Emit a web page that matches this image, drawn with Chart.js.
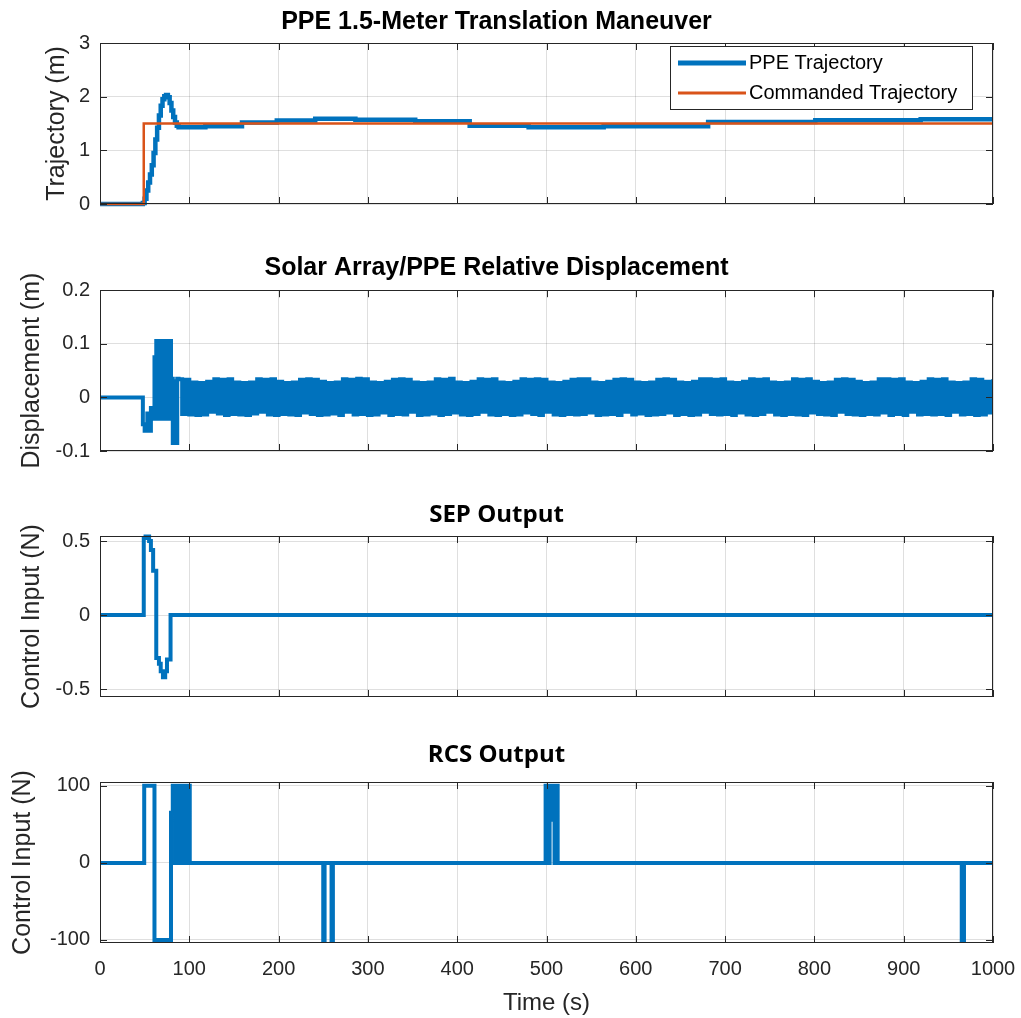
<!DOCTYPE html>
<html>
<head>
<meta charset="utf-8">
<title>PPE 1.5-Meter Translation Maneuver</title>
<script src="https://cdn.jsdelivr.net/npm/chart.js@4.4.1/dist/chart.umd.min.js"></script>
<style>
  html, body { margin: 0; padding: 0; background: #fff; }
  #wrap { position: relative; width: 1021px; height: 1018px; overflow: hidden; }
  canvas { position: absolute; left: 0; }
</style>
</head>
<body>
<div id="wrap">
  <canvas id="trajChart" width="1021" height="234" style="top:0px"></canvas>
  <canvas id="dispChart" width="1021" height="234" style="top:247px"></canvas>
  <canvas id="sepChart" width="1021" height="233" style="top:494px"></canvas>
  <canvas id="rcsChart" width="1021" height="278" style="top:740px"></canvas>
</div>
<script>
const timeTicks = [0, 100, 200, 300, 400, 500, 600, 700, 800, 900, 1000];

// PPE trajectory (m), each sample held until the next one
const trajTime = [0, 48, 50, 52, 54, 56, 58, 60, 62, 64, 66, 68, 70, 72, 74, 76, 78, 80, 82, 84, 86, 88,
  118, 159, 198, 241, 286, 353, 414, 480, 564, 681, 801, 919, 1000];
const trajPos = [0, 0.02, 0.1, 0.25, 0.4, 0.55, 0.72, 0.95, 1.2, 1.42, 1.65, 1.83, 1.95, 2.01, 2.03, 1.99, 1.88, 1.74, 1.62, 1.52, 1.46, 1.43,
  1.45, 1.52, 1.555, 1.59, 1.57, 1.54, 1.46, 1.43, 1.45, 1.53, 1.56, 1.58, 1.58];

// commanded trajectory (m)
const cmdTime = [0, 49, 1000];
const cmdPos = [0, 1.5, 1.5];

// solar array / PPE relative displacement (m): transient part
const dispTime = [0, 48, 50, 53, 54, 57, 59, 61, 62, 63, 67, 68, 70.5, 72, 73, 76, 77, 79.5, 80.5, 81.5, 83, 84, 86.5];
const dispVal = [0, -0.05, -0.062, -0.03, -0.062, -0.02, -0.04, 0.075, -0.04, 0.105, -0.04, 0.105, -0.04, 0.03, 0.105, -0.04, 0.105, -0.04, 0.035, -0.085, 0.03, -0.085, 0.035];

// steady oscillation, sampled every 4 s from t = 88 s
const dispSteadyStart = 88;
const dispSteadyStep = 4;
const dispSteady = [
  0.034, -0.031, 0.033, -0.032, 0.028, -0.033, 0.027, -0.032, 0.029, -0.027,
  0.034, -0.030, 0.033, -0.033, 0.034, -0.031, 0.028, -0.032, 0.027, -0.033,
  0.028, -0.030, 0.034, -0.027, 0.033, -0.032, 0.034, -0.033, 0.029, -0.031,
  0.027, -0.032, 0.028, -0.033, 0.033, -0.028, 0.034, -0.031, 0.033, -0.033,
  0.029, -0.032, 0.027, -0.030, 0.028, -0.033, 0.034, -0.027, 0.033, -0.032,
  0.035, -0.031, 0.034, -0.033, 0.028, -0.032, 0.027, -0.028, 0.029, -0.033,
  0.033, -0.031, 0.034, -0.032, 0.033, -0.027, 0.028, -0.033, 0.027, -0.032,
  0.028, -0.030, 0.034, -0.033, 0.033, -0.031, 0.035, -0.028, 0.028, -0.032,
  0.027, -0.033, 0.029, -0.031, 0.034, -0.027, 0.033, -0.032, 0.034, -0.033,
  0.028, -0.031, 0.027, -0.033, 0.029, -0.032, 0.034, -0.028, 0.033, -0.031,
  0.034, -0.033, 0.033, -0.027, 0.028, -0.032, 0.027, -0.033, 0.029, -0.031,
  0.033, -0.032, 0.034, -0.031, 0.034, -0.028, 0.028, -0.033, 0.027, -0.032,
  0.029, -0.031, 0.033, -0.033, 0.034, -0.027, 0.033, -0.032, 0.028, -0.030,
  0.027, -0.033, 0.028, -0.032, 0.033, -0.031, 0.034, -0.028, 0.033, -0.033,
  0.028, -0.031, 0.027, -0.033, 0.029, -0.032, 0.034, -0.027, 0.034, -0.031,
  0.033, -0.032, 0.034, -0.031, 0.028, -0.033, 0.027, -0.028, 0.029, -0.032,
  0.034, -0.033, 0.033, -0.031, 0.034, -0.027, 0.028, -0.032, 0.027, -0.033,
  0.028, -0.031, 0.034, -0.032, 0.033, -0.033, 0.034, -0.028, 0.029, -0.031,
  0.027, -0.032, 0.028, -0.033, 0.033, -0.027, 0.034, -0.031, 0.033, -0.032,
  0.029, -0.033, 0.027, -0.031, 0.028, -0.032, 0.034, -0.028, 0.034, -0.033,
  0.033, -0.031, 0.034, -0.033, 0.028, -0.027, 0.027, -0.032, 0.029, -0.031,
  0.034, -0.032, 0.033, -0.031, 0.034, -0.033, 0.028, -0.027, 0.027, -0.032,
  0.028, -0.031, 0.034, -0.033, 0.033, -0.032, 0.029, -0.028, 0.034, -0.031
];

// SEP thrust (N)
const sepTime = [0, 49, 51, 55, 57, 59.5, 63, 66, 68, 70.5, 73, 75, 79, 1000];
const sepVal = [0, 0.52, 0.53, 0.5, 0.44, 0.3, -0.29, -0.33, -0.38, -0.42, -0.38, -0.3, 0, 0];

// RCS thrust (N)
const rcsTime = [0, 49.5, 61, 79.5, 81.5,
  84, 85, 86, 87, 88, 89, 90, 91, 92, 93, 94, 95, 96, 97, 98, 99, 100.5,
  250, 251.5, 259.3, 260.8,
  499, 500, 500.5, 501.5, 502, 503, 503.5, 504.5, 505.5, 507, 508, 509, 509.5, 510.5, 511, 512.5,
  965, 967.5, 1000];
const rcsVal = [0, 100, -100, 65, 100,
  0, 100, 0, 100, 0, 100, 0, 100, 0, 100, 0, 100, 0, 100, 0, 100, 0,
  -100, 0, -100, 0,
  100, 0, 100, 0, 100, 0, 100, 70, 100, 56, 100, 0, 100, 0, 100, 0,
  -100, 0, 0];

const blue = '#0072BD';
const orange = '#D95319';
const gridColor = 'rgba(38,38,38,0.15)';
const axisColor = '#262626';
const sansFamily = '"Liberation Sans", Arial, sans-serif';
const lineClip = { left: 0, top: 3, right: 0, bottom: 3 };

Chart.defaults.font.family = sansFamily;
Chart.defaults.color = axisColor;

const toPoints = (ts, vs) => ts.map((t, i) => ({ x: t, y: vs[i] }));

const dispPoints = toPoints(dispTime, dispVal).concat(
  dispSteady.map((v, i) => ({ x: dispSteadyStart + i * dispSteadyStep, y: v }))
);

// box round the plot area with inward tick marks on all four sides
const axesBox = {
  id: 'axesBox',
  afterDatasetsDraw(chart) {
    const { ctx, chartArea: a, scales: { x, y } } = chart;
    const len = 7;
    ctx.save();
    ctx.strokeStyle = axisColor;
    ctx.lineWidth = 1;
    ctx.beginPath();
    x.ticks.forEach(t => {
      const px = Math.round(x.getPixelForValue(t.value)) + 0.5;
      ctx.moveTo(px, a.top); ctx.lineTo(px, a.top + len);
      ctx.moveTo(px, a.bottom); ctx.lineTo(px, a.bottom - len);
    });
    y.ticks.forEach(t => {
      const py = Math.round(y.getPixelForValue(t.value)) + 0.5;
      ctx.moveTo(a.left, py); ctx.lineTo(a.left + len, py);
      ctx.moveTo(a.right, py); ctx.lineTo(a.right - len, py);
    });
    ctx.stroke();
    ctx.strokeRect(Math.round(a.left) + 0.5, Math.round(a.top) + 0.5, Math.round(a.width) - 1, Math.round(a.height) - 1);
    ctx.restore();
  }
};

// framed legend in the upper right corner of the plot area
const boxLegend = {
  id: 'boxLegend',
  afterDraw(chart) {
    const { ctx, chartArea } = chart;
    const w = 302, h = 63;
    const x = Math.round(chartArea.right - 21 - w), y = Math.round(chartArea.top + 3);
    ctx.save();
    ctx.fillStyle = '#fff';
    ctx.fillRect(x, y, w, h);
    ctx.strokeStyle = axisColor;
    ctx.lineWidth = 1;
    ctx.strokeRect(x + 0.5, y + 0.5, w, h);
    ctx.font = '20px ' + sansFamily;
    ctx.textBaseline = 'middle';
    chart.data.datasets.forEach((ds, i) => {
      const cy = y + 17 + i * 30;
      ctx.strokeStyle = ds.borderColor;
      ctx.lineWidth = ds.legendWidth || ds.borderWidth;
      ctx.beginPath();
      ctx.moveTo(x + 8, cy);
      ctx.lineTo(x + 76, cy);
      ctx.stroke();
      ctx.fillStyle = '#000';
      ctx.fillText(ds.label, x + 79, cy);
    });
    ctx.restore();
  }
};

function timeAxis(showLabels, height) {
  return {
    type: 'linear',
    min: 0,
    max: 1000,
    afterBuildTicks: axis => { axis.ticks = timeTicks.map(v => ({ value: v })); },
    afterFit: axis => {
      axis.height = height;
      axis.paddingLeft = 0;
      axis.paddingRight = 0;
    },
    grid: { color: gridColor, drawTicks: false },
    border: { display: false },
    ticks: {
      display: showLabels,
      padding: 14,
      color: axisColor,
      font: { size: 20 },
      callback: v => String(v)
    },
    title: {
      display: showLabels,
      text: 'Time (s)',
      color: axisColor,
      font: { size: 24 },
      padding: { top: 0, bottom: 0 }
    }
  };
}

function valueAxis(min, max, ticks, title, titleGap) {
  return {
    type: 'linear',
    min: min,
    max: max,
    afterBuildTicks: axis => { axis.ticks = ticks.map(v => ({ value: v })); },
    afterFit: axis => { axis.width = 100; },
    grid: { color: gridColor, drawTicks: false },
    border: { display: false },
    ticks: { padding: 10, color: axisColor, font: { size: 20 } },
    title: {
      display: true,
      text: title,
      color: axisColor,
      font: { size: 25 },
      padding: { top: titleGap, bottom: 0 }
    }
  };
}

function plotTitle(text, family, size, padTop, padBottom) {
  return {
    display: true,
    text: text,
    color: '#000',
    font: { size: size, weight: 'bold', family: family },
    padding: { top: padTop, bottom: padBottom }
  };
}

function baseOptions(title, xAxis, yAxis) {
  return {
    responsive: false,
    animation: false,
    events: [],
    layout: { padding: { left: 0, right: 28, top: 0, bottom: 0 } },
    plugins: { legend: { display: false }, tooltip: { enabled: false }, title: title },
    scales: { x: xAxis, y: yAxis }
  };
}

function lineSet(label, points, color, width, order) {
  return {
    label: label,
    data: points,
    borderColor: color,
    borderWidth: width,
    stepped: true,
    pointRadius: 0,
    fill: false,
    clip: lineClip,
    order: order
  };
}

const ppeSet = lineSet('PPE Trajectory', toPoints(trajTime, trajPos), blue, 4.5, 1);
ppeSet.legendWidth = 5;
const cmdSet = lineSet('Commanded Trajectory', toPoints(cmdTime, cmdPos), orange, 2.5, 0);
cmdSet.legendWidth = 3;

new Chart(document.getElementById('trajChart'), {
  type: 'line',
  data: { datasets: [ppeSet, cmdSet] },
  options: baseOptions(
    plotTitle('PPE 1.5-Meter Translation Maneuver', sansFamily, 25, 7, 6),
    timeAxis(false, 30),
    valueAxis(0, 3, [0, 1, 2, 3], 'Trajectory (m)', 42.6)
  ),
  plugins: [axesBox, boxLegend]
});

new Chart(document.getElementById('dispChart'), {
  type: 'line',
  data: { datasets: [lineSet('Displacement', dispPoints, blue, 4, 0)] },
  options: baseOptions(
    plotTitle('Solar Array/PPE Relative Displacement', sansFamily, 25, 6.6, 6.6),
    timeAxis(false, 30),
    valueAxis(-0.1, 0.2, [-0.1, 0, 0.1, 0.2], 'Displacement (m)', 17.6)
  ),
  plugins: [axesBox]
});

new Chart(document.getElementById('sepChart'), {
  type: 'line',
  data: { datasets: [lineSet('SEP', toPoints(sepTime, sepVal), blue, 4, 0)] },
  options: baseOptions(
    plotTitle('SEP Output', '"Open Sans", sans-serif', 24, 6.6, 6.6),
    timeAxis(false, 30),
    valueAxis(-0.554, 0.534, [-0.5, 0, 0.5], 'Control Input (N)', 17.6)
  ),
  plugins: [axesBox]
});

new Chart(document.getElementById('rcsChart'), {
  type: 'line',
  data: { datasets: [lineSet('RCS', toPoints(rcsTime, rcsVal), blue, 4, 0)] },
  options: baseOptions(
    plotTitle('RCS Output', '"Open Sans", sans-serif', 24, 0.6, 12.6),
    timeAxis(true, 75),
    valueAxis(-104, 105, [-100, 0, 100], 'Control Input (N)', 8.6)
  ),
  plugins: [axesBox]
});
</script>
</body>
</html>
